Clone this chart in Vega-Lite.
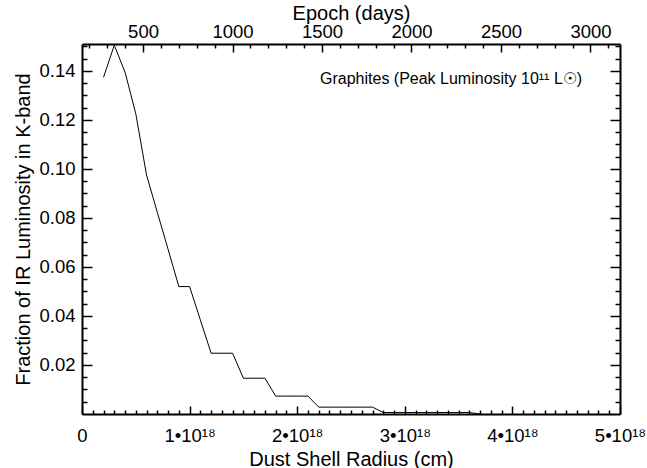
{
  "$schema": "https://vega.github.io/schema/vega-lite/v6.json",
  "width": 538,
  "height": 370,
  "autosize": {"type": "none"},
  "padding": {"left": 82, "top": 44, "right": 27, "bottom": 54},
  "background": "white",
  "config": {
    "view": {"stroke": null},
    "axis": {
      "domainColor": "black", "domainWidth": 2, "tickColor": "black", "tickWidth": 1.5,
      "labelFont": "Liberation Sans", "titleFont": "Liberation Sans",
      "labelFontSize": 18.5, "titleFontSize": 20, "labelColor": "black", "titleColor": "black",
      "titleFontWeight": "normal", "grid": false, "labelOverlap": false, "labelFlush": false
    }
  },
  "data": {"values": [
    {"r": 0.2, "f": 0.1374}, {"r": 0.3, "f": 0.1505}, {"r": 0.4, "f": 0.1395}, {"r": 0.5, "f": 0.1225},
    {"r": 0.6, "f": 0.0975}, {"r": 0.7, "f": 0.0823}, {"r": 0.8, "f": 0.0672}, {"r": 0.9, "f": 0.052},
    {"r": 1.0, "f": 0.052}, {"r": 1.1, "f": 0.0384}, {"r": 1.2, "f": 0.0248}, {"r": 1.3, "f": 0.0248},
    {"r": 1.4, "f": 0.0248}, {"r": 1.5, "f": 0.0146}, {"r": 1.6, "f": 0.0146}, {"r": 1.7, "f": 0.0146},
    {"r": 1.8, "f": 0.0073}, {"r": 1.9, "f": 0.0073}, {"r": 2.0, "f": 0.0073}, {"r": 2.1, "f": 0.0073},
    {"r": 2.2, "f": 0.0028}, {"r": 2.3, "f": 0.0028}, {"r": 2.4, "f": 0.0028}, {"r": 2.5, "f": 0.0028},
    {"r": 2.6, "f": 0.0028}, {"r": 2.7, "f": 0.0028}, {"r": 2.8, "f": 0.0006}, {"r": 2.9, "f": 0.0006},
    {"r": 3.0, "f": 0.0006}, {"r": 3.1, "f": 0.0006}, {"r": 3.2, "f": 0.0006}, {"r": 3.3, "f": 0.0006},
    {"r": 3.4, "f": 0.0006}, {"r": 3.5, "f": 0.0006}, {"r": 3.6, "f": 0.0006}, {"r": 3.7, "f": 0.0}
  ]},
  "layer": [
    {
      "layer": [
        {"mark": {"type": "line", "color": "black", "strokeWidth": 1}},
        {
          "data": {"values": [{"r": 2.212, "f": 0.1367, "label": "Graphites (Peak Luminosity 10¹¹ L☉)"}]},
          "mark": {"type": "text", "align": "left", "baseline": "middle", "font": "Liberation Sans", "fontSize": 16, "color": "black"},
          "encoding": {"text": {"field": "label"}}
        }
      ],
      "encoding": {
        "x": {"field": "r", "type": "quantitative",
          "scale": {"domain": [0, 5], "nice": false, "zero": false},
          "axis": {"orient": "bottom", "values": [0, 1, 2, 3, 4, 5], "tickSize": -8, "labelPadding": 20,
            "labelExpr": "datum.value == 0 ? '0' : datum.value + '•10¹⁸'",
            "title": "Dust Shell Radius (cm)", "titleBaseline": "alphabetic", "titleX": 269, "titleY": 51, "titleAlign": "center"}},
        "y": {"field": "f", "type": "quantitative",
          "scale": {"domain": [0, 0.151], "nice": false, "zero": false},
          "axis": {"orient": "left", "values": [0.02, 0.04, 0.06, 0.08, 0.1, 0.12, 0.14], "format": ".2f",
            "tickSize": -10, "labelPadding": 17, "title": "Fraction of IR Luminosity in K-band",
            "titleBaseline": "alphabetic", "titleAngle": -90, "titleX": -52.5, "titleY": 185, "titleAlign": "center"}}
      }
    },
    {
      "mark": {"type": "point", "opacity": 0},
      "encoding": {
        "x": {"field": "r", "type": "quantitative",
          "scale": {"domain": [0, 5], "nice": false, "zero": false},
          "axis": {"orient": "bottom", "values": [0.1,0.2,0.3,0.4,0.5,0.6,0.7,0.8,0.9,1.1,1.2,1.3,1.4,1.5,1.6,1.7,1.8,1.9,2.1,2.2,2.3,2.4,2.5,2.6,2.7,2.8,2.9,3.1,3.2,3.3,3.4,3.5,3.6,3.7,3.8,3.9,4.1,4.2,4.3,4.4,4.5,4.6,4.7,4.8,4.9],
            "tickSize": -4, "labels": false, "domain": false, "title": null}},
        "y": {"field": "f", "type": "quantitative",
          "scale": {"domain": [0, 0.151], "nice": false, "zero": false},
          "axis": {"orient": "left", "values": [0.005,0.01,0.015,0.025,0.03,0.035,0.045,0.05,0.055,0.065,0.07,0.075,0.085,0.09,0.095,0.105,0.11,0.115,0.125,0.13,0.135,0.145,0.15],
            "tickSize": -5, "labels": false, "domain": false, "title": null}}
      }
    },
    {
      "mark": {"type": "point", "opacity": 0},
      "encoding": {
        "x": {"field": "r", "type": "quantitative",
          "scale": {"domain": [159, 3165], "nice": false, "zero": false},
          "axis": {"orient": "top", "values": [500, 1000, 1500, 2000, 2500, 3000], "tickSize": -8, "labelPadding": 11,
            "format": "d", "title": "Epoch (days)", "titleBaseline": "alphabetic", "titleX": 269, "titleY": -25, "titleAlign": "center"}},
        "y": {"field": "f", "type": "quantitative",
          "scale": {"domain": [0, 0.151], "nice": false, "zero": false},
          "axis": {"orient": "right", "values": [0.02, 0.04, 0.06, 0.08, 0.1, 0.12, 0.14],
            "tickSize": -10, "labels": false, "title": null}}
      }
    },
    {
      "mark": {"type": "point", "opacity": 0},
      "encoding": {
        "x": {"field": "r", "type": "quantitative",
          "scale": {"domain": [159, 3165], "nice": false, "zero": false},
          "axis": {"orient": "top", "values": [200,300,400,600,700,800,900,1100,1200,1300,1400,1600,1700,1800,1900,2100,2200,2300,2400,2600,2700,2800,2900,3100],
            "tickSize": -4, "labels": false, "domain": false, "title": null}},
        "y": {"field": "f", "type": "quantitative",
          "scale": {"domain": [0, 0.151], "nice": false, "zero": false},
          "axis": {"orient": "right", "values": [0.005,0.01,0.015,0.025,0.03,0.035,0.045,0.05,0.055,0.065,0.07,0.075,0.085,0.09,0.095,0.105,0.11,0.115,0.125,0.13,0.135,0.145,0.15],
            "tickSize": -5, "labels": false, "domain": false, "title": null}}
      }
    }
  ],
  "resolve": {"scale": {"x": "independent", "y": "independent"}}
}
